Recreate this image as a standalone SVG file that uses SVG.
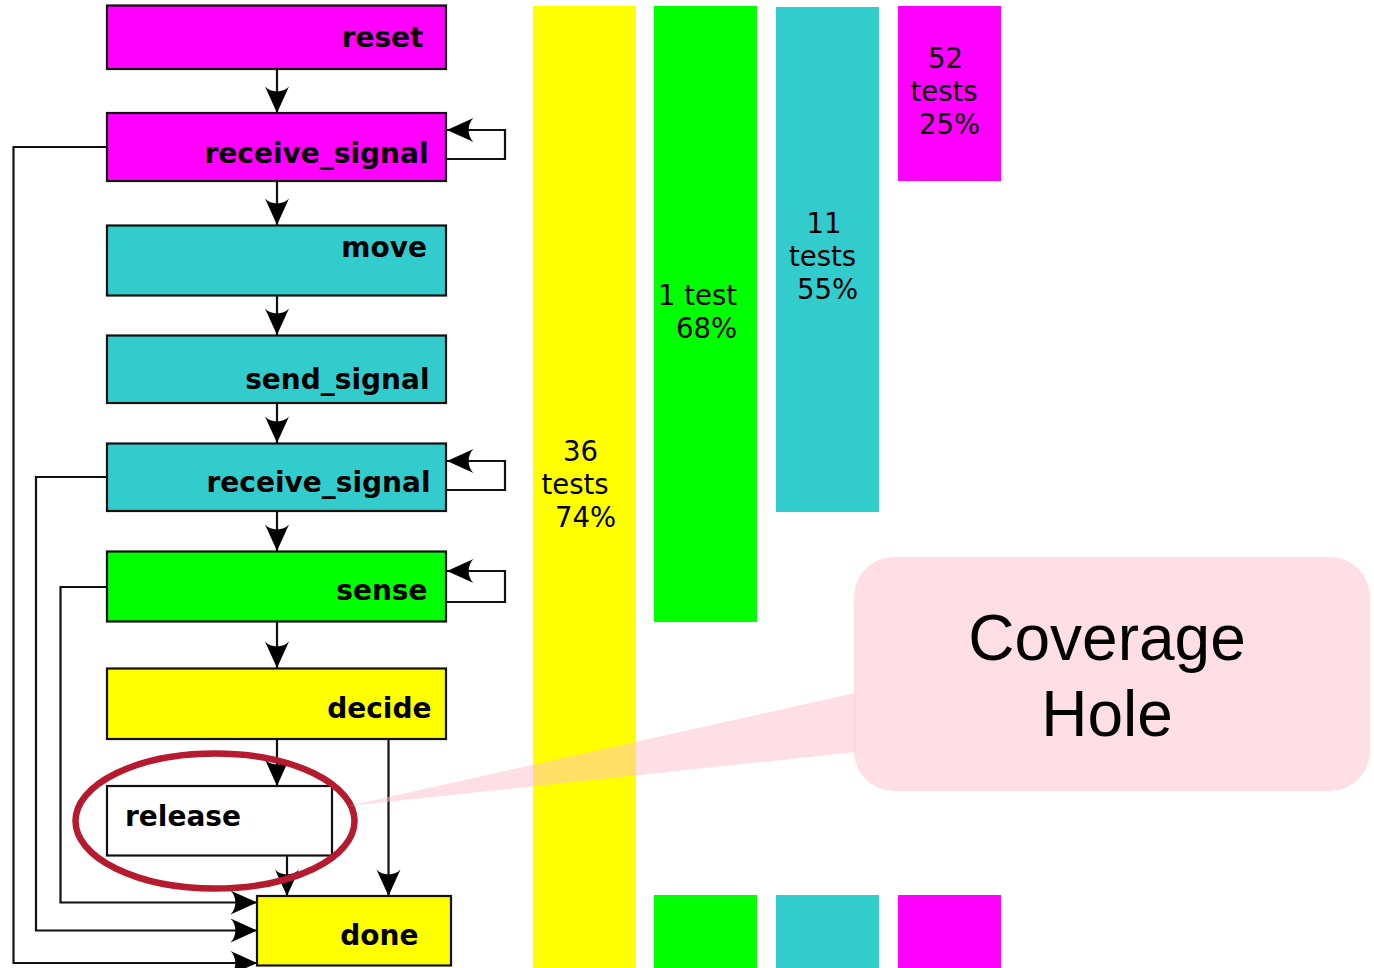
<svg xmlns="http://www.w3.org/2000/svg" width="1374" height="968" viewBox="0 0 1374 968">
<style>
.box{stroke:#111;stroke-width:2.2}
.lbl{font-family:"DejaVu Sans",sans-serif;font-weight:bold;font-size:28px;fill:#000}
.bar{font-family:"DejaVu Sans",sans-serif;font-size:27.5px;fill:#000}
.con{fill:none;stroke:#111;stroke-width:2.2}
.m{fill:#ff00ff}.c{fill:#33cccc}.g{fill:#00ff00}.y{fill:#ffff00}.w{fill:#ffffff}
.note{fill:#ffc0cb;fill-opacity:0.5}
.big{font-family:"Liberation Sans",Arial,sans-serif;font-size:64px;fill:#000;text-anchor:middle}
</style>
<defs>
<marker id="ah" markerUnits="userSpaceOnUse" markerWidth="30" markerHeight="28" refX="28" refY="14" orient="auto" overflow="visible">
<path d="M28,14 L1.5,2 C8,8 8,20 1.5,26 Z" fill="#000"/>
</marker>
</defs>
<rect width="1374" height="968" fill="#fff"/>
<g id="bars">
<rect class="y" x="533" y="6" width="103" height="962"/>
<rect class="g" x="654" y="6" width="103" height="616"/>
<rect class="c" x="776" y="7" width="103" height="505"/>
<rect class="m" x="898" y="6" width="103" height="175"/>
<rect class="g" x="654" y="895" width="103" height="73"/>
<rect class="c" x="776" y="895" width="103" height="73"/>
<rect class="m" x="898" y="895" width="103" height="73"/>
<text class="bar" x="563" y="461">36</text>
<text class="bar" x="541.5" y="493.5">tests</text>
<text class="bar" x="555" y="527">74%</text>
<text class="bar" x="658" y="305">1 test</text>
<text class="bar" x="676" y="338">68%</text>
<text class="bar" x="806.5" y="233">11</text>
<text class="bar" x="789" y="266">tests</text>
<text class="bar" x="797" y="299">55%</text>
<text class="bar" x="928" y="68">52</text>
<text class="bar" x="910.5" y="100.5">tests</text>
<text class="bar" x="919" y="133.5">25%</text>
</g>
<g id="connectors">
<path class="con" marker-end="url(#ah)" d="M277,69 V113"/>
<path class="con" marker-end="url(#ah)" d="M446,159 H505 V130 H447"/>
<path class="con" marker-end="url(#ah)" d="M277,181 V225"/>
<path class="con" marker-end="url(#ah)" d="M277,296 V335"/>
<path class="con" marker-end="url(#ah)" d="M277,403 V443"/>
<path class="con" marker-end="url(#ah)" d="M446,490 H505 V461 H447"/>
<path class="con" marker-end="url(#ah)" d="M277,511 V551"/>
<path class="con" marker-end="url(#ah)" d="M446,602 H505 V571 H447"/>
<path class="con" marker-end="url(#ah)" d="M277,622 V668"/>
<path class="con" marker-end="url(#ah)" d="M277,739 V786"/>
<path class="con" marker-end="url(#ah)" d="M388.5,739 V896"/>
<path class="con" marker-end="url(#ah)" d="M287,856 V896"/>
<path class="con" marker-end="url(#ah)" d="M107,147 H13.5 V963 H257"/>
<path class="con" marker-end="url(#ah)" d="M107,477 H36 V930.5 H257"/>
<path class="con" marker-end="url(#ah)" d="M107,587 H60.5 V902.5 H257"/>
</g>
<g id="reset"><rect class="box m" x="107" y="5.5" width="339" height="63.5"/><text class="lbl" x="423.5" y="47" text-anchor="end">reset</text></g>
<g id="receive_signal_1"><rect class="box m" x="107" y="113" width="339" height="68"/><text class="lbl" x="428.5" y="162.5" text-anchor="end">receive_signal</text></g>
<g id="move"><rect class="box c" x="107" y="225.5" width="339" height="70"/><text class="lbl" x="427" y="257" text-anchor="end">move</text></g>
<g id="send_signal"><rect class="box c" x="107" y="335.5" width="339" height="67.5"/><text class="lbl" x="429.5" y="389" text-anchor="end">send_signal</text></g>
<g id="receive_signal_2"><rect class="box c" x="107" y="443.5" width="339" height="67.5"/><text class="lbl" x="430.5" y="492" text-anchor="end">receive_signal</text></g>
<g id="sense"><rect class="box g" x="107" y="551.5" width="339" height="70"/><text class="lbl" x="427.5" y="600" text-anchor="end">sense</text></g>
<g id="decide"><rect class="box y" x="107" y="668.5" width="339" height="70.5"/><text class="lbl" x="431.5" y="717.5" text-anchor="end">decide</text></g>
<g id="release"><rect class="box w" x="107" y="786" width="225" height="69.5"/><text class="lbl" x="125" y="825.5">release</text></g>
<g id="done"><rect class="box y" x="257" y="896" width="194" height="69.5"/><text class="lbl" x="418.5" y="944.5" text-anchor="end">done</text></g>
<g id="coverage_hole">
<ellipse cx="215" cy="821" rx="139.5" ry="67.5" fill="none" stroke="#b51a2e" stroke-width="6.5"/>
<path class="note" d="M855,693 L855,752 L348,806 Z"/>
<rect class="note" x="854" y="557" width="516" height="234" rx="40" ry="40"/>
<text class="big" x="1107" y="660">Coverage</text>
<text class="big" x="1107" y="736">Hole</text>
</g>
</svg>
